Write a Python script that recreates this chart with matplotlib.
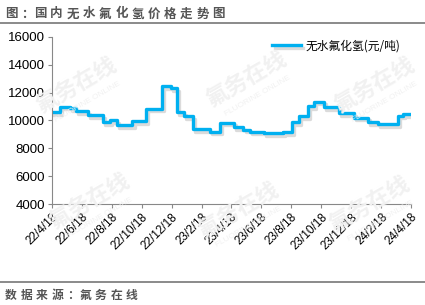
import numpy as np
import pandas as pd
import matplotlib
matplotlib.use("Agg")
import matplotlib.pyplot as plt
import matplotlib.patheffects as pe

plt.rcParams['font.family'] = ['Liberation Sans', 'Noto Sans CJK SC', 'DejaVu Sans']

# price change points (stepped series)
change_dates = ["2022-04-18", "2022-05-04", "2022-05-25", "2022-06-07", "2022-07-01",
                "2022-07-31", "2022-08-14", "2022-08-28", "2022-09-29", "2022-10-26",
                "2022-11-28", "2022-12-16", "2022-12-28", "2023-01-12", "2023-01-31",
                "2023-03-06", "2023-03-26", "2023-04-23", "2023-05-13", "2023-05-27",
                "2023-06-24", "2023-08-01", "2023-08-20", "2023-09-03", "2023-09-21",
                "2023-10-03", "2023-10-23", "2023-11-23", "2023-12-24", "2024-01-22",
                "2024-02-11", "2024-03-22", "2024-04-02", "2024-04-16"]
prices = [10600, 11000, 10900, 10650, 10400,
          9900, 10000, 9650, 9950, 10850,
          12450, 12350, 10600, 10300, 9400,
          9200, 9850, 9550, 9350, 9200,
          9100, 9150, 9900, 10300, 11050,
          11350, 10950, 10550, 10200, 9900,
          9750, 10350, 10450, 10450]

tick_dates = ["2022-04-18", "2022-06-18", "2022-08-18", "2022-10-18", "2022-12-18",
              "2023-02-18", "2023-04-18", "2023-06-18", "2023-08-18", "2023-10-18",
              "2023-12-18", "2024-02-18", "2024-04-18"]
tick_labels = ["22/4/18", "22/6/18", "22/8/18", "22/10/18", "22/12/18",
               "23/2/18", "23/4/18", "23/6/18", "23/8/18", "23/10/18",
               "23/12/18", "24/2/18", "24/4/18"]
y_ticks = [4000, 6000, 8000, 10000, 12000, 14000, 16000]

series_name = "无水氟化氢(元/吨)"
title = "图：国内无水氟化氢价格走势图"
source = "数据来源：氟务在线"

W, H = 425, 305
x = pd.to_datetime(change_dates)
ticks = pd.to_datetime(tick_dates)

fig = plt.figure(figsize=(W / 100, H / 100), dpi=100)
ax = fig.add_axes([0.122, 0.331, 0.845, 0.548])


def spaced_text(s, x0, step, y, size):
    # header/footer text is drawn with wide letter spacing
    px = x0
    for ch in s:
        fig.text(px / W, 1 - y / H, ch, fontsize=size, fontweight='bold', color='#555555',
                 family=['Noto Sans CJK SC'], va='center', ha='left')
        px += step * (0.8 if ch == "：" else 1)


# faint watermarks
for wx, wy in [(0.18, 0.72), (0.58, 0.74), (0.88, 0.72), (0.21, 0.34), (0.56, 0.31), (0.87, 0.33)]:
    fig.text(wx, wy, "氟务在线", rotation=30, fontsize=16, color="#f1f1f1",
             family=['Noto Sans CJK SC'], fontweight='bold', ha='center', va='center', zorder=0)
    fig.text(wx + 0.025, wy - 0.055, "FLUORINE ONLINE", rotation=30, fontsize=6,
             color="#f1f1f1", ha='center', va='center', zorder=0)

ax.patch.set_alpha(0)
ax.plot(x, prices, drawstyle='steps-post', color="#00b0f0", lw=2.4, label=series_name,
        solid_joinstyle='round',
        path_effects=[pe.SimpleLineShadow(offset=(1.5, -2), shadow_color='#999999', alpha=0.35),
                      pe.Normal()])

ax.set_xlim(pd.Timestamp("2022-04-18"), pd.Timestamp("2024-04-18"))
ax.set_ylim(4000, 16000)
ax.set_yticks(y_ticks)
ax.set_yticklabels([str(v) for v in y_ticks], fontsize=9.5)
ax.set_xticks(ticks)
ax.set_xticklabels(tick_labels, fontsize=8.5, rotation=45, ha='right', rotation_mode='anchor')

for s in ['top', 'right']:
    ax.spines[s].set_visible(False)
for s in ['left', 'bottom']:
    ax.spines[s].set_color('#888888')
    ax.spines[s].set_linewidth(0.8)
ax.tick_params(axis='both', colors='#888888', labelcolor='black', length=3, width=0.8)
ax.tick_params(axis='x', pad=2)
ax.tick_params(axis='y', pad=2)

ax.legend(loc='upper right', bbox_to_anchor=(1.0, 1.05), frameon=False,
          handlelength=2.4, handletextpad=0.4,
          prop={'family': ['Noto Sans CJK SC'], 'size': 8.5})

# header and footer
spaced_text(title, 5, 16.2, 14, 9)
fig.add_artist(plt.Line2D([0, 1], [0.925, 0.925], color='#777777', lw=1.2))
fig.add_artist(plt.Line2D([0, 1], [0.076, 0.076], color='#777777', lw=1.2))
spaced_text(source, 5, 15.5, 295, 8.5)

fig.savefig("out.png", dpi=100)
